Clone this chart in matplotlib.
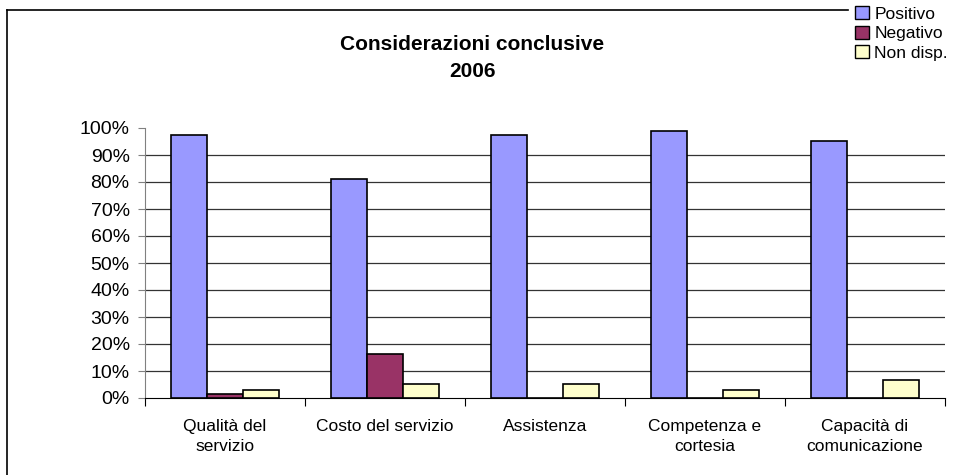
import numpy as np
import matplotlib.pyplot as plt
from matplotlib.lines import Line2D

# -----------------------------------------------------------
#   Dati
# -----------------------------------------------------------
categorie = ["Qualità del\nservizio", "Costo del servizio", "Assistenza",
             "Competenza e\ncortesia", "Capacità di\ncomunicazione"]
positivo = [97.4, 81.1, 97.4, 98.9, 95.2]
negativo = [1.4, 16.2, 0.0, 0.0, 0.0]
non_disp = [3.0, 5.2, 5.2, 3.0, 6.7]
serie = ["Positivo", "Negativo", "Non disp."]
colori = ["#9999FF", "#993366", "#FFFFCC"]
yticks = list(range(0, 101, 10))

plt.rcParams["font.family"] = ["Liberation Sans", "DejaVu Sans"]

fig = plt.figure(figsize=(9.67, 4.75), dpi=100)
ax = fig.add_axes([145/967, 1-398/475, 800/967, 270/475])

x = np.arange(len(categorie))
w = 0.225
for i, (vals, nome, col) in enumerate(zip([positivo, negativo, non_disp], serie, colori)):
    ax.bar(x + (i - 1) * w, [v / 100 for v in vals], w, color=col,
           edgecolor="black", linewidth=1.2, label=nome, zorder=3)

ax.set_xlim(-0.5, len(categorie) - 0.5)
ax.set_ylim(0, 1)
ax.set_yticks([t / 100 for t in yticks])
ax.set_yticklabels([f"{t}%" for t in yticks], fontsize=14)

# tacche ai bordi delle categorie, etichette al centro
ax.set_xticks(np.arange(-0.5, len(categorie)), minor=False)
ax.set_xticklabels([])
ax.set_xticks(x, minor=True)
ax.set_xticklabels(categorie, minor=True, fontsize=12.5, linespacing=1.45)
ax.tick_params(axis="x", which="minor", length=0, pad=15)
ax.tick_params(axis="x", which="major", length=6, color="black")
ax.tick_params(axis="y", length=5, color="#808080", pad=6)

for t in yticks[1:-1]:
    ax.axhline(t / 100, color="#333333", linewidth=0.9, zorder=1)

ax.spines["top"].set_visible(False)
ax.spines["right"].set_visible(False)
ax.spines["left"].set_color("#808080")
ax.spines["bottom"].set_color("black")

# bordo del grafico (sinistra e sopra, fino alla legenda)
bx, by = 7/967, 1 - 10/475
fig.add_artist(Line2D([bx, bx], [0, by], transform=fig.transFigure,
                      color="black", linewidth=1.2))
fig.add_artist(Line2D([bx, 848/967], [by, by], transform=fig.transFigure,
                      color="black", linewidth=1.2))

fig.text(472/967, 1 - 35/475, "Considerazioni conclusive\n2006",
         ha="center", va="top", fontsize=15, fontweight="bold", linespacing=1.55)

leg = fig.legend(loc="upper left", bbox_to_anchor=(850/967, 1 - 1/475),
                 frameon=False, fontsize=12.5, handlelength=0.8, handleheight=0.8,
                 handletextpad=0.3, labelspacing=0.22, borderpad=0.3,
                 borderaxespad=0)
for h in leg.legend_handles:
    h.set_linewidth(1)

fig.savefig("out.png", dpi=100)
